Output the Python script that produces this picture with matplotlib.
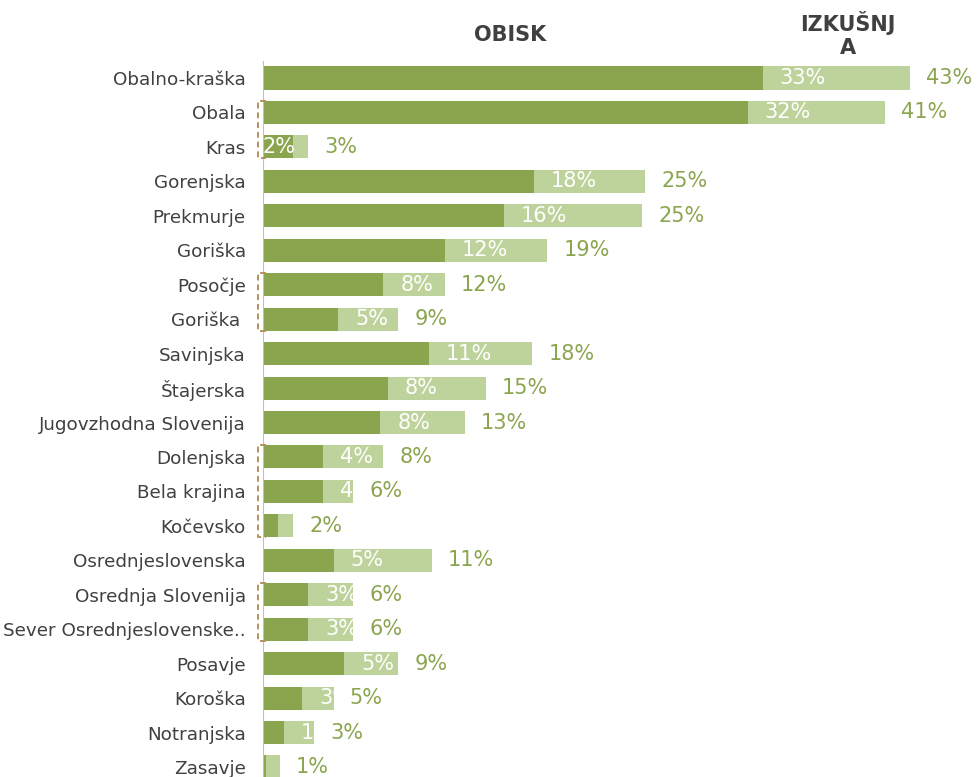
import matplotlib.pyplot as plt
import matplotlib.transforms as mtransforms

regions = ["Obalno-kraška", "Obala", "Kras", "Gorenjska", "Prekmurje", "Goriška",
           "Posočje", "Goriška ", "Savinjska", "Štajerska", "Jugovzhodna Slovenija",
           "Dolenjska", "Bela krajina", "Kočevsko", "Osrednjeslovenska",
           "Osrednja Slovenija", "Sever Osrednjeslovenske..", "Posavje", "Koroška",
           "Notranjska", "Zasavje"]
obisk = [33.2, 32.2, 2.0, 18.0, 16.0, 12.1, 8.0, 5.0, 11.0, 8.3, 7.8,
         4.0, 4.0, 1.0, 4.7, 3.0, 3.0, 5.4, 2.6, 1.4, 0.2]
izkusnja = [43.0, 41.3, 3.0, 25.4, 25.2, 18.9, 12.1, 9.0, 17.9, 14.8, 13.4,
            8.0, 6.0, 2.0, 11.2, 6.0, 6.0, 9.0, 4.7, 3.4, 1.1]
obisk_labels = ["33%", "32%", "2%", "18%", "16%", "12%", "8%", "5%", "11%", "8%", "8%",
                "4%", "4%", "", "5%", "3%", "3%", "5%", "3%", "1%", ""]
izkusnja_labels = ["43%", "41%", "3%", "25%", "25%", "19%", "12%", "9%", "18%", "15%", "13%",
                   "8%", "6%", "2%", "11%", "6%", "6%", "9%", "5%", "3%", "1%"]
groups = [("Obala", "Kras"), ("Posočje", "Goriška "),
          ("Dolenjska", "Kočevsko"), ("Osrednja Slovenija", "Sever Osrednjeslovenske..")]

dark = "#8aa54e"
light = "#bed39b"
text_grey = "#404040"
bracket_col = "#b8915c"

W, H = 978, 777
fig = plt.figure(figsize=(W / 100, H / 100), dpi=100)
ax = fig.add_axes([263 / W, 0, 1 - 263 / W, (777 - 61) / H])

y = list(range(len(regions)))
bh = 0.67
light_bars = ax.barh(y, izkusnja, height=bh, color=light, zorder=2)
ax.barh(y, obisk, height=bh, color=dark, zorder=3)

ax.set_xlim(0, (W - 263) / 15.05)
ax.set_ylim((777 - 78) / 34.45, -(78 - 61) / 34.45)

ax.set_yticks(y)
ax.set_yticklabels(regions, fontsize=13.2, color=text_grey)
ax.tick_params(axis="y", length=0, pad=12.5)
ax.set_xticks([])
for s in ["top", "right", "bottom"]:
    ax.spines[s].set_visible(False)
ax.spines["left"].set_color("#c0c0c0")
ax.spines["left"].set_zorder(5)


def shift(px):
    return ax.transData + mtransforms.ScaledTranslation(px / 100, 0, fig.dpi_scale_trans)


for i in y:
    # outer value (izkusnja)
    ax.text(izkusnja[i], i, izkusnja_labels[i], color=dark, fontsize=15,
            va="center", ha="left", transform=shift(16))
    if not obisk_labels[i]:
        continue
    if izkusnja[i] - obisk[i] < 1.2:
        t = ax.text(obisk[i], i, obisk_labels[i], color="white", fontsize=15,
                    va="center", ha="right", zorder=6, transform=shift(2))
        t.set_clip_on(True)
    else:
        t = ax.text(obisk[i], i, obisk_labels[i], color="white", fontsize=15,
                    va="center", ha="left", zorder=6, transform=shift(17))
        t.set_clip_path(light_bars.patches[i])

# dashed brackets for sub-regions
tr = ax.get_yaxis_transform()
x0 = -5 / (W - 263)
x1 = 3 / (W - 263)
for a, b in groups:
    i0 = regions.index(a)
    i1 = regions.index(b)
    top = i0 - bh / 2
    bot = i1 + bh / 2
    ax.plot([x1, x0, x0, x1], [top, top, bot, bot], transform=tr, color=bracket_col,
            lw=1.4, ls=(0, (3, 2)), clip_on=False, zorder=6)

fig.text(510 / W, 1 - 35 / H, "OBISK", ha="center", va="center",
         fontsize=15, fontweight="bold", color=text_grey)
fig.text(848 / W, 1 - 34.5 / H, "IZKUŠNJ\nA", ha="center", va="center",
         fontsize=15, fontweight="bold", color=text_grey, linespacing=1.2)

plt.savefig("out.png", dpi=100)
